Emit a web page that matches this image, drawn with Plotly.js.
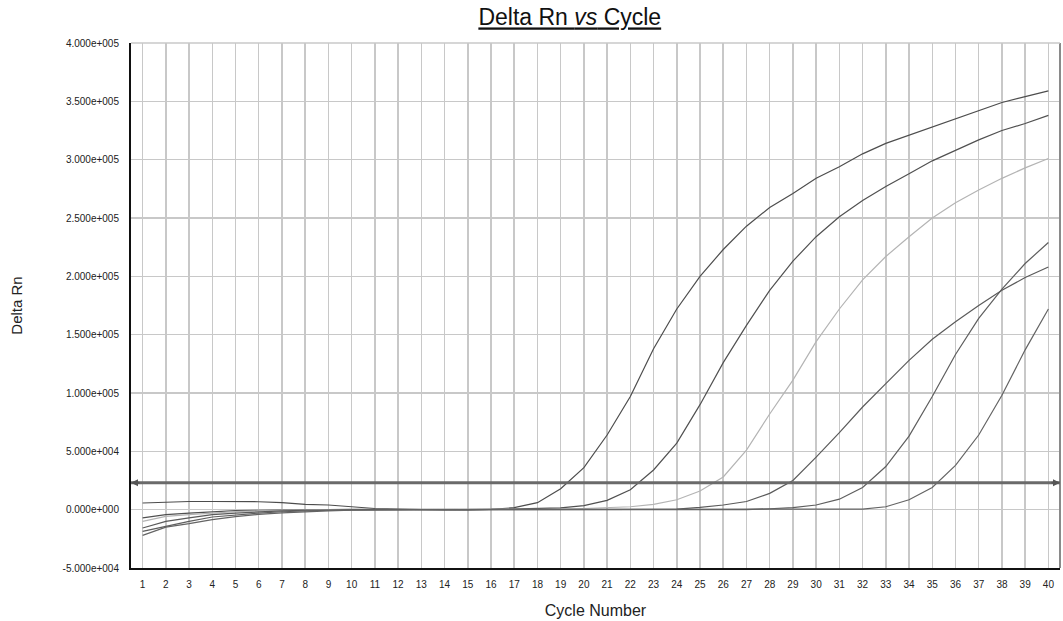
<!DOCTYPE html>
<html><head><meta charset="utf-8">
<script src="https://cdn.plot.ly/plotly-3.0.1.min.js"></script>
<style>html,body{margin:0;padding:0;background:#fff}#chart{width:1063px;height:621px}</style>
</head><body><div id="chart"></div>
<script>
const cycles = [1,2,3,4,5,6,7,8,9,10,11,12,13,14,15,16,17,18,19,20,21,22,23,24,25,26,27,28,29,30,31,32,33,34,35,36,37,38,39,40];

// Delta Rn values (x1000)
const sampleA = [5.7,6.5,7,7,7,6.8,6,4.5,4,2.5,1,0.5,0,-0.3,-0.3,0.3,1.7,6,18,36,64,97,138,172,200,223,243,259,271,284,294,305,314,321,328,335,342,349,354,359];
const sampleB = [-7,-4.3,-2.9,-1.7,-0.9,-0.5,-0.2,0,0.2,0.2,0.2,0,0,0,0,0.2,0.5,1,1.5,3.4,8,17,34,57,90,126,158,188,213,234,251,265,277,288,299,308,317,325,331,338];
const sampleC = [-10,-5.7,-4.3,-2.9,-1.7,-1,-0.5,-0.2,0,0,0,0,0,0,0,0,0,0.3,0.5,1,1.5,2.5,4.5,8.5,16,28,51,82,111,144,172,197,217,234,250,263,274,284,293,301];
const sampleD = [-15.7,-10,-7,-4.3,-2.9,-1.8,-1,-0.5,-0.2,0,0,0,0,0,0,0,0,0,0,0,0,0,0,0.5,2,4,7,14,25,45,66,88,108,128,146,161,175,188,199,208];
const sampleE = [-18.6,-14,-10,-6.3,-4.3,-2.9,-1.8,-1,-0.5,-0.2,0,0,0,0,0,0,0,0,0,0,0,0,0,0,0,0,0,0.8,1.7,4,9,19,37,63,97,133,164,189,211,229];
const sampleF = [-22,-15,-12,-8.5,-6,-4,-2.7,-1.7,-1,-0.5,-0.2,0,0,0,0,0,0,0,0,0,0,0,0,0,0,0,0,0,0,0,0,0.5,2.5,8.5,19,38,64,98,137,172];

const threshold = 23000;

const yTickVals = [-50000,0,50000,100000,150000,200000,250000,300000,350000,400000];
const yTickText = ['-5.000e+004','0.000e+000','5.000e+004','1.000e+005','1.500e+005','2.000e+005','2.500e+005','3.000e+005','3.500e+005','4.000e+005'];
const xTickVals = cycles;
const xTickText = cycles.map(String);

const series = [
  {y: sampleA, color: '#4d4d4d'},
  {y: sampleB, color: '#505050'},
  {y: sampleC, color: '#b4b4b4'},
  {y: sampleD, color: '#5a5a5a'},
  {y: sampleE, color: '#5e5e5e'},
  {y: sampleF, color: '#646464'}
];

const traces = series.map(s => ({
  x: cycles,
  y: s.y.map(v => v * 1000),
  type: 'scatter',
  mode: 'lines',
  line: {color: s.color, width: 1.2},
  hoverinfo: 'skip',
  showlegend: false
}));

const layout = {
  width: 1063, height: 621,
  paper_bgcolor: '#ffffff', plot_bgcolor: '#ffffff',
  margin: {l: 131, r: 3, t: 43, b: 53},
  font: {family: 'Liberation Sans, Arial, sans-serif', color: '#222'},
  title: {
    text: '<u>Delta Rn <i>vs</i> Cycle</u>',
    font: {family: 'Liberation Sans, Arial, sans-serif', size: 23, color: '#111'},
    xref: 'container', x: 0.536, xanchor: 'center',
    yref: 'container', y: 0.972, yanchor: 'middle'
  },
  xaxis: {
    range: [0.5, 40.5],
    tickmode: 'array', tickvals: xTickVals, ticktext: xTickText,
    tickfont: {size: 10, color: '#222'},
    ticks: 'outside', ticklen: 6, tickcolor: 'rgba(0,0,0,0)',
    showgrid: true, gridcolor: '#c8c8c8', gridwidth: 1.5,
    zeroline: false,
    showline: true, linecolor: '#111', linewidth: 2,
    title: {text: 'Cycle Number', font: {size: 16, color: '#222'}, standoff: 16}
  },
  yaxis: {
    range: [-50000, 400000],
    tickmode: 'array', tickvals: yTickVals, ticktext: yTickText,
    tickfont: {size: 10, color: '#222'},
    ticks: 'outside', ticklen: 8, tickcolor: 'rgba(0,0,0,0)',
    showgrid: true, gridcolor: '#c8c8c8', gridwidth: 1.5,
    zeroline: false,
    showline: true, linecolor: '#111', linewidth: 2,
    title: {text: 'Delta Rn', font: {size: 15, color: '#222'}, standoff: 36}
  },
  shapes: [
    {type: 'line', xref: 'paper', yref: 'paper', x0: 1, x1: 1, y0: 0, y1: 1, line: {color: '#8a8a8a', width: 2}},
    {type: 'line', xref: 'paper', yref: 'paper', x0: 0, x1: 1, y0: 1, y1: 1, line: {color: '#c8c8c8', width: 1.5}},
    {type: 'line', xref: 'paper', yref: 'y', x0: 0, x1: 1, y0: threshold, y1: threshold, line: {color: '#6a6a6a', width: 3}}
  ],
  annotations: [
    {xref: 'paper', yref: 'y', x: 0, y: threshold, ax: 10, ay: 0, text: '', showarrow: true, arrowhead: 2, arrowsize: 0.7, arrowwidth: 2, arrowcolor: '#555'},
    {xref: 'paper', yref: 'y', x: 1, y: threshold, ax: -10, ay: 0, text: '', showarrow: true, arrowhead: 2, arrowsize: 0.7, arrowwidth: 2, arrowcolor: '#555'}
  ]
};

Plotly.newPlot('chart', traces, layout, {displayModeBar: false, staticPlot: true});
</script>
</body></html>
